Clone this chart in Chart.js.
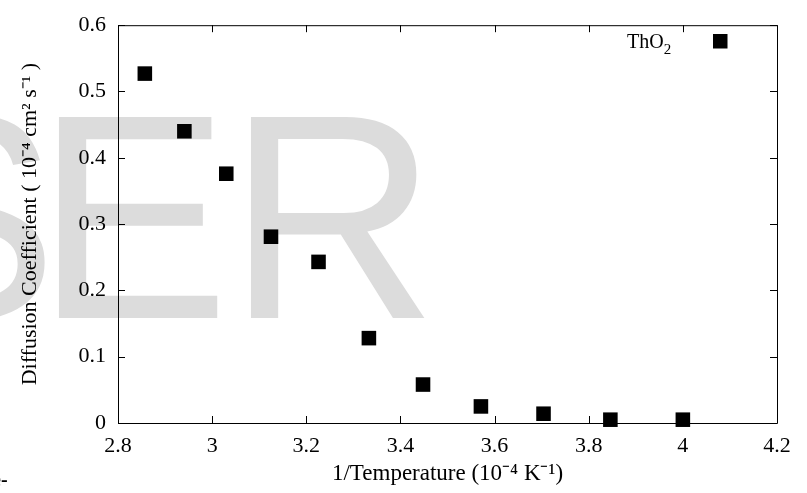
<!DOCTYPE html>
<html>
<head>
<meta charset="utf-8">
<script src="https://cdn.jsdelivr.net/npm/chart.js@4.4.0/dist/chart.umd.min.js"></script>
<style>
  html, body { margin: 0; padding: 0; background: #fff; }
</style>
</head>
<body>
<canvas id="chart" width="807" height="493"></canvas>
<script>
// data (1/T in 1e-4 K^-1, D in 1e-4 cm^2 s^-1)
const invTemp = [2.857, 2.941, 3.030, 3.125, 3.226, 3.333, 3.448, 3.571, 3.704, 3.846, 4.0];
const diffCoef = [0.527, 0.440, 0.376, 0.281, 0.243, 0.128, 0.058, 0.025, 0.014, 0.005, 0.005];
const xTicks = [2.8, 3, 3.2, 3.4, 3.6, 3.8, 4, 4.2];
const yTicks = [0, 0.1, 0.2, 0.3, 0.4, 0.5, 0.6];
const seriesName = "ThO2";

const serif = "'Liberation Serif', 'Times New Roman', serif";

// white page + the grey "SER" watermark behind everything
const background = {
  id: "background",
  beforeDraw(chart) {
    const ctx = chart.ctx;
    ctx.save();
    ctx.fillStyle = "#fff";
    ctx.fillRect(0, 0, chart.width, chart.height);
    ctx.fillStyle = "#dcdcdc";
    ctx.font = "292px 'Liberation Sans', Arial, sans-serif";
    ctx.textBaseline = "alphabetic";
    ctx.textAlign = "right";
    ctx.fillText("S", 58, 318);
    ctx.textAlign = "left";
    ctx.fillText("E", 35, 318);
    ctx.fillText("R", 227, 318);
    // cut-off text from the neighbouring column
    ctx.fillStyle = "#000";
    ctx.font = "bold 20px " + serif;
    ctx.fillText("e-", -8, 486);
    ctx.restore();
  }
};

// gnuplot style box with inward ticks on all four sides
const frame = {
  id: "frame",
  beforeDatasetsDraw(chart) {
    const { ctx, chartArea: a, scales } = chart;
    const len = 7;
    ctx.save();
    ctx.strokeStyle = "#000";
    ctx.lineWidth = 1;
    ctx.beginPath();
    ctx.rect(a.left + 0.5, a.top + 0.5, a.right - a.left, a.bottom - a.top);
    scales.x.ticks.forEach(t => {
      const px = Math.round(scales.x.getPixelForValue(t.value)) + 0.5;
      ctx.moveTo(px, a.bottom);
      ctx.lineTo(px, a.bottom - len);
      ctx.moveTo(px, a.top);
      ctx.lineTo(px, a.top + len);
    });
    scales.y.ticks.forEach(t => {
      const py = Math.round(scales.y.getPixelForValue(t.value)) + 0.5;
      ctx.moveTo(a.left, py);
      ctx.lineTo(a.left + len, py);
      ctx.moveTo(a.right, py);
      ctx.lineTo(a.right - len, py);
    });
    ctx.stroke();
    ctx.restore();
  }
};

// key in the top right corner: label then marker
const key = {
  id: "key",
  afterDraw(chart) {
    const { ctx } = chart;
    const ds = chart.data.datasets[0];
    ctx.save();
    ctx.fillStyle = "#000";
    ctx.textBaseline = "alphabetic";
    ctx.textAlign = "left";
    ctx.font = "20px " + serif;
    const main = ds.label.slice(0, -1);
    const sub = ds.label.slice(-1);
    const x0 = 627;
    ctx.fillText(main, x0, 48);
    const w = ctx.measureText(main).width;
    ctx.font = "15px " + serif;
    ctx.fillText(sub, x0 + w, 54);
    ctx.fillRect(713, 34, 14.5, 14.5);
    ctx.restore();
  }
};

const tickFont = { family: serif, size: 22 };

new Chart(document.getElementById("chart"), {
  type: "scatter",
  data: {
    datasets: [{
      label: seriesName,
      data: invTemp.map((x, i) => ({ x: x, y: diffCoef[i] })),
      pointStyle: "rect",
      pointRadius: 10.3,
      pointHoverRadius: 10.3,
      backgroundColor: "#000",
      borderColor: "#000",
      borderWidth: 0,
      clip: false
    }]
  },
  options: {
    responsive: false,
    animation: false,
    devicePixelRatio: 1,
    layout: { padding: { top: 18, right: 30, left: 0, bottom: 0 } },
    plugins: {
      legend: { display: false },
      tooltip: { enabled: false }
    },
    scales: {
      x: {
        type: "linear",
        min: 2.8,
        max: 4.2,
        afterBuildTicks: s => { s.ticks = xTicks.map(v => ({ value: v })); },
        afterFit: s => { s.height = 70; },
        grid: { display: false, drawTicks: false },
        border: { display: false },
        ticks: { font: tickFont, color: "#000", padding: 10, maxRotation: 0, autoSkip: false,
                 callback: v => String(v) },
        title: { display: true, text: "1/Temperature (10⁻⁴ K⁻¹)", font: { family: serif, size: 23 },
                 color: "#000", padding: { top: 0, bottom: 5 } }
      },
      y: {
        type: "linear",
        min: 0,
        max: 0.6,
        afterBuildTicks: s => { s.ticks = yTicks.map(v => ({ value: v })); },
        afterFit: s => { s.width = 118; },
        grid: { display: false, drawTicks: false },
        border: { display: false },
        ticks: { font: tickFont, color: "#000", padding: 12, callback: v => String(v) },
        title: { display: true, text: "Diffusion Coefficient ( 10⁻⁴ cm² s⁻¹ )", font: { family: serif, size: 22 },
                 color: "#000", padding: { top: 17, bottom: 0 } }
      }
    }
  },
  plugins: [background, frame, key]
});
</script>
</body>
</html>
